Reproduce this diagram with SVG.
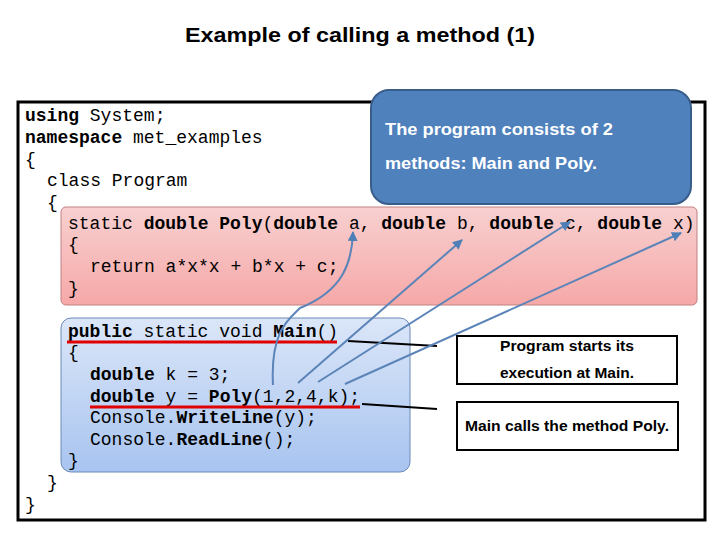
<svg xmlns="http://www.w3.org/2000/svg" width="720" height="540" viewBox="0 0 720 540">
<defs>
<linearGradient id="pink" x1="0" y1="0" x2="0" y2="1"><stop offset="0" stop-color="#f8d0d0"/><stop offset="1" stop-color="#f6a8a8"/></linearGradient>
<linearGradient id="blue" x1="0" y1="0" x2="0" y2="1"><stop offset="0" stop-color="#dbe6f8"/><stop offset="1" stop-color="#a8c4f0"/></linearGradient>
<marker id="ah" viewBox="0 0 10 10" refX="9" refY="5" markerWidth="5" markerHeight="5" orient="auto"><path d="M0,0L10,5L0,10z" fill="#4f7fb7"/></marker>
<style>
.c{font-family:"Liberation Mono",monospace;font-size:18px;fill:#000}
.b{font-weight:bold}
.s{font-family:"Liberation Sans",Arial,sans-serif}
.arr{fill:none;stroke:#5b84b8;stroke-width:2;marker-end:url(#ah)}
</style>
</defs>
<rect width="720" height="540" fill="#fff"/>
<text x="360" y="42" text-anchor="middle" class="s b" font-size="20" textLength="350" lengthAdjust="spacingAndGlyphs">Example of calling a method (1)</text>
<rect id="frame" x="18" y="102" width="687" height="418" fill="#fff" stroke="#000" stroke-width="3"/>
<g id="poly"><rect x="61" y="207" width="636" height="98" rx="5" fill="url(#pink)" stroke="#c08080"/></g>
<g id="main"><rect x="61" y="318" width="349" height="154" rx="10" fill="url(#blue)" stroke="#6a8ab8"/></g>
<g id="callout"><rect x="371" y="90" width="320" height="114" rx="18" fill="#4f81bd" stroke="#385d8a" stroke-width="2"/>
<text x="385" y="135" class="s b" font-size="17" fill="#fff" textLength="228" lengthAdjust="spacingAndGlyphs">The program consists of 2</text>
<text x="385" y="169" class="s b" font-size="17" fill="#fff" textLength="212" lengthAdjust="spacingAndGlyphs">methods: Main and Poly.</text></g>
<g id="code">
<text class="c" x="25" y="121"><tspan class="b">using</tspan> System;</text>
<text class="c" x="25" y="143"><tspan class="b">namespace</tspan> met_examples</text>
<text class="c" x="25" y="165">{</text>
<text class="c" x="47" y="186">class Program</text>
<text class="c" x="47" y="208">{</text>
<text class="c" x="68" y="229">static <tspan class="b">double Poly</tspan>(<tspan class="b">double</tspan> a, <tspan class="b">double</tspan> b, <tspan class="b">double</tspan> c, <tspan class="b">double</tspan> x)</text>
<text class="c" x="68" y="250">{</text>
<text class="c" x="90" y="272">return a*x*x + b*x + c;</text>
<text class="c" x="68" y="294">}</text>
<text class="c" x="68" y="337"><tspan class="b">public</tspan> static void <tspan class="b">Main</tspan>()</text>
<text class="c" x="68" y="358">{</text>
<text class="c" x="90" y="380"><tspan class="b">double</tspan> k = 3;</text>
<text class="c" x="90" y="402"><tspan class="b">double</tspan> y = <tspan class="b">Poly</tspan>(1,2,4,k);</text>
<text class="c" x="90" y="423">Console.<tspan class="b">WriteLine</tspan>(y);</text>
<text class="c" x="90" y="445">Console.<tspan class="b">ReadLine</tspan>();</text>
<text class="c" x="68" y="466">}</text>
<text class="c" x="47" y="488">}</text>
<text class="c" x="25" y="510">}</text>
</g>
<g id="connectors">
<line x1="67" y1="342" x2="337" y2="342" stroke="#e00000" stroke-width="3"/>
<line x1="90" y1="407" x2="360" y2="407" stroke="#e00000" stroke-width="3"/>
<line x1="348" y1="341" x2="437" y2="346" stroke="#000" stroke-width="2"/>
<line x1="362" y1="404" x2="437" y2="409" stroke="#000" stroke-width="2"/>
<path class="arr" d="M273,385 C270,330 290,318 300,308 C345,290 352,260 353,232"/>
<path class="arr" d="M298,383 L462,240"/>
<path class="arr" d="M318,382 L570,222"/>
<path class="arr" d="M345,384 L681,233"/>
</g>
<g id="note1"><rect x="457" y="336" width="220" height="48" fill="#fff" stroke="#000" stroke-width="2"/>
<text x="567" y="351" text-anchor="middle" class="s b" font-size="14" textLength="134" lengthAdjust="spacingAndGlyphs">Program starts its</text>
<text x="567" y="378" text-anchor="middle" class="s b" font-size="14" textLength="134" lengthAdjust="spacingAndGlyphs">execution at Main.</text></g>
<g id="note2"><rect x="457" y="402" width="221" height="48" fill="#fff" stroke="#000" stroke-width="2"/>
<text x="567" y="431" text-anchor="middle" class="s b" font-size="14" textLength="204" lengthAdjust="spacingAndGlyphs">Main calls the method Poly.</text></g>
</svg>
